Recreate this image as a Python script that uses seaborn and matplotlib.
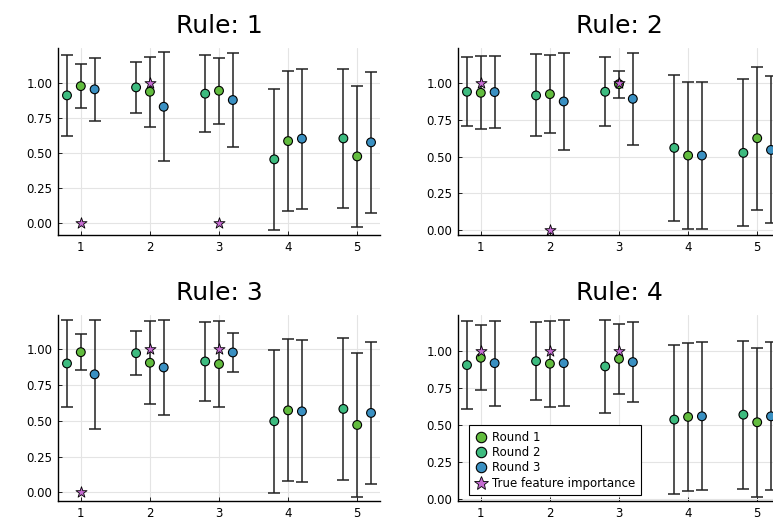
import numpy as np
import pandas as pd
import matplotlib
matplotlib.use("Agg")
import matplotlib.pyplot as plt
import seaborn as sns
from matplotlib.lines import Line2D

features = [1, 2, 3, 4, 5]
star_features = [1, 2, 3]
rounds = ["Round 1", "Round 2", "Round 3"]
rules = [1, 2, 3, 4]

# means and half-widths of error bars, per rule
r1_mean = {1: [0.976, 0.936, 0.943, 0.585, 0.476],
           2: [0.934, 0.925, 0.993, 0.507, 0.625],
           3: [0.981, 0.907, 0.898, 0.574, 0.472],
           4: [0.951, 0.911, 0.944, 0.553, 0.517]}
r1_err = {1: [0.158, 0.250, 0.235, 0.495, 0.503],
          2: [0.249, 0.264, 0.091, 0.502, 0.486],
          3: [0.128, 0.290, 0.301, 0.497, 0.503],
          4: [0.218, 0.289, 0.235, 0.499, 0.501]}
r2_mean = {1: [0.910, 0.967, 0.922, 0.455, 0.604],
           2: [0.941, 0.916, 0.941, 0.559, 0.525],
           3: [0.902, 0.974, 0.916, 0.498, 0.584],
           4: [0.902, 0.928, 0.893, 0.535, 0.568]}
r2_err = {1: [0.290, 0.183, 0.272, 0.501, 0.492],
          2: [0.235, 0.279, 0.235, 0.497, 0.500],
          3: [0.302, 0.156, 0.277, 0.501, 0.496],
          4: [0.299, 0.263, 0.311, 0.499, 0.497]}
r3_mean = {1: [0.953, 0.829, 0.877, 0.602, 0.576],
           2: [0.939, 0.875, 0.893, 0.507, 0.545],
           3: [0.826, 0.874, 0.979, 0.567, 0.556],
           4: [0.915, 0.915, 0.922, 0.557, 0.557]}
r3_err = {1: [0.222, 0.387, 0.335, 0.498, 0.501],
          2: [0.244, 0.333, 0.312, 0.502, 0.500],
          3: [0.379, 0.333, 0.137, 0.497, 0.498],
          4: [0.286, 0.287, 0.271, 0.498, 0.498]}
true_importance = {1: [0, 1, 0], 2: [1, 0, 1], 3: [0, 1, 1], 4: [1, 1, 1]}

ylims = {1: (-0.083, 1.247), 2: (-0.034, 1.239), 3: (-0.06, 1.241), 4: (-0.013, 1.239)}

offsets = {"Round 1": 0.0, "Round 2": -0.2, "Round 3": 0.2}
palette = {"Round 1": "#62bc3e", "Round 2": "#3dbb7f", "Round 3": "#3a90c2"}
star_color = "#c46bd1"

sns.set_theme(style="white")
plt.rcParams['font.family'] = ['DejaVu Sans']
plt.rcParams['text.color'] = 'black'

W, H = 773, 524
fig = plt.figure(figsize=(W / 100, H / 100), dpi=100)

boxes = {1: (58, 48, 380, 235), 2: (458, 48, 780, 235),
         3: (58, 315, 380, 501), 4: (458, 315, 780, 501)}

for rule in rules:
    l, t, r, b = boxes[rule]
    ax = fig.add_axes([l / W, 1 - b / H, (r - l) / W, (b - t) / H])
    rows = []
    for rnd, means, errs in [("Round 1", r1_mean, r1_err),
                             ("Round 2", r2_mean, r2_err),
                             ("Round 3", r3_mean, r3_err)]:
        for f, m, e in zip(features, means[rule], errs[rule]):
            rows.append({"x": f + offsets[rnd], "y": m, "err": e, "round": rnd})
    df = pd.DataFrame(rows)
    ax.errorbar(df["x"], df["y"], yerr=df["err"], fmt="none", ecolor="#222222",
                elinewidth=1.1, capsize=4, capthick=1.1, zorder=2)
    sns.scatterplot(data=df, x="x", y="y", hue="round", hue_order=rounds,
                    palette=palette, s=40, edgecolor="black", linewidth=0.8,
                    legend=False, ax=ax, zorder=3)
    sdf = pd.DataFrame({"x": star_features, "y": true_importance[rule]})
    sns.scatterplot(data=sdf, x="x", y="y", marker="*", s=70, color=star_color,
                    edgecolor="black", linewidth=0.6, legend=False, ax=ax, zorder=4)
    ax.set_xlim(0.67, 5.33)
    ax.set_ylim(*ylims[rule])
    ax.set_xticks(features)
    ax.set_yticks([0, 0.25, 0.5, 0.75, 1.0])
    ax.set_yticklabels(["0.00", "0.25", "0.50", "0.75", "1.00"])
    ax.set_xlabel("")
    ax.set_ylabel("")
    ax.grid(True, color="#e4e4e4", linewidth=0.8)
    ax.set_axisbelow(True)
    for s in ["top", "right"]:
        ax.spines[s].set_visible(False)
    for s in ["left", "bottom"]:
        ax.spines[s].set_color("black")
        ax.spines[s].set_linewidth(1.0)
    ax.tick_params(axis="both", direction="in", length=3, width=0.6,
                   labelsize=8.5, colors="black", pad=4, left=True, bottom=True)
    ax.set_title(f"Rule: {rule}", fontsize=18, pad=11, color="black")

    if rule == 4:
        handles = [Line2D([], [], marker="o", linestyle="none", markersize=7.5,
                          markerfacecolor=palette[rn], markeredgecolor="black",
                          markeredgewidth=0.8, label=rn) for rn in rounds]
        handles.append(Line2D([], [], marker="*", linestyle="none", markersize=10,
                              markerfacecolor=star_color, markeredgecolor="black",
                              markeredgewidth=0.6, label="True feature importance"))
        leg = ax.legend(handles=handles, loc="lower left",
                        bbox_to_anchor=(0.034, 0.032), borderaxespad=0,
                        fontsize=8.5, frameon=True, fancybox=False,
                        edgecolor="black", framealpha=1, handletextpad=0.3,
                        handlelength=1.2, labelspacing=0.2, borderpad=0.45)
        leg.get_frame().set_linewidth(0.8)
        for txt in leg.get_texts():
            txt.set_color("black")

fig.savefig("out.png", dpi=100)
